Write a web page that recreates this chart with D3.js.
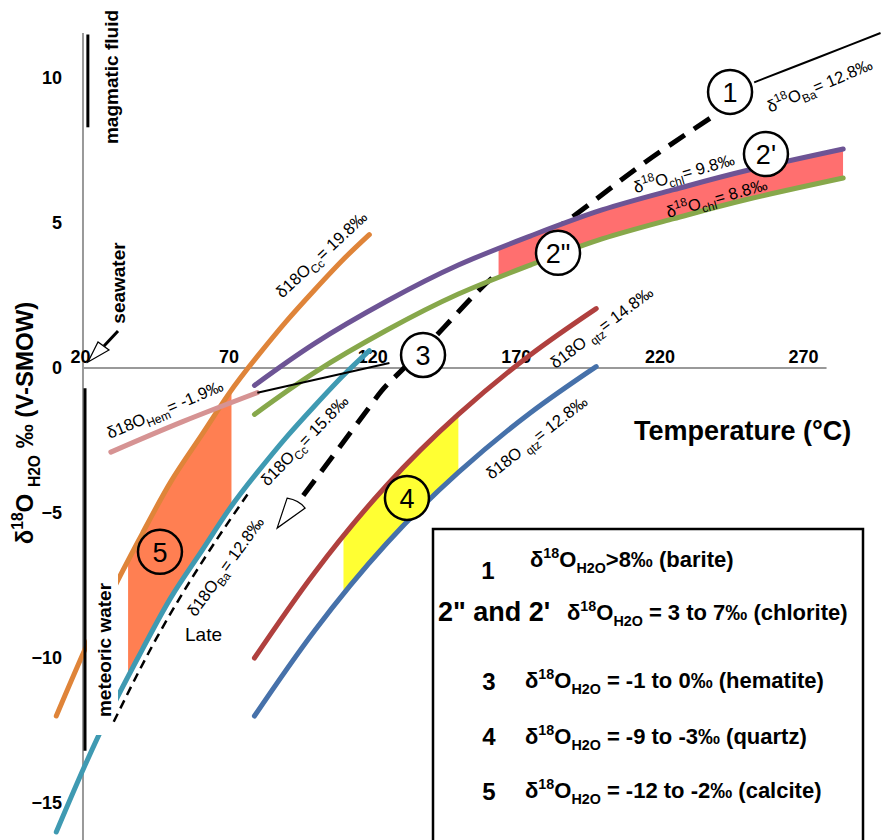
<!DOCTYPE html>
<html>
<head>
<meta charset="utf-8">
<script src="https://cdn.jsdelivr.net/npm/d3@7"></script>
<style>
  body { margin: 0; background: #fff; }
  svg { font-family: "Liberation Sans", Arial, Helvetica, sans-serif; }
</style>
</head>
<body>
<div id="container"></div>
<script>
/* CONSTANTS AND GLOBALS */
const width = 882;
const height = 840;

// DATA - temperature (°C) and δ18O of water (‰)
const calciteT = [10, 20, 30, 40, 50, 60, 70, 80, 90, 100, 110, 119];
const calcite198 = [-12.0, -9.7, -7.6, -5.7, -3.9, -2.4, -0.9, 0.4, 1.6, 2.7, 3.75, 4.6];
const calcite158 = [-16.0, -13.7, -11.6, -9.7, -7.9, -6.4, -4.9, -3.6, -2.4, -1.3, -0.25, 0.6];

const chloriteT = [79, 100, 125, 150, 175, 200, 225, 250, 284];
const chlorite98 = [-0.6, 0.85, 2.3, 3.55, 4.55, 5.45, 6.15, 6.8, 7.55];
const chlorite88 = [-1.6, -0.15, 1.3, 2.55, 3.55, 4.45, 5.15, 5.8, 6.55];

const quartzT = [79, 100, 125, 150, 175, 198];
const quartz148 = [-10.0, -7.05, -4.05, -1.6, 0.45, 2.05];
const quartz128 = [-12.0, -9.05, -6.05, -3.6, -1.55, 0.05];

const hematiteT = [29, 54, 80];
const hematite = [-2.9, -1.85, -0.85];
const hematiteLinkT = [80, 126];
const hematiteLink = [-0.85, 0.17];

const bariteT = [96, 119, 127, 145, 164, 191, 213, 239];
const barite = [-4.4, -1.35, -0.4, 1.4, 3.3, 5.3, 6.95, 8.7];
const bariteHotT = [253, 275, 297];
const bariteHot = [9.85, 10.7, 11.55];
const bariteLateT = [30, 45, 62, 77];
const bariteLate = [-12.2, -9.3, -6.5, -4.3];

// temperature windows of the shaded fields
const calciteBand = [35, 71];
const chloriteBand = [164, 284];
const quartzBand = [110, 150];

// fluid reservoirs (δ18O ranges)
const magmaticRange = [8.3, 11.5];
const meteoricRange = [-13.2, -0.7];

const xTicks = [20, 70, 120, 170, 220, 270];
const yTicks = [-15, -10, -5, 0, 5, 10];

// numbered circles [label, T, δ18O]
const markers = [["1", 244.6, 9.52], ["2'", 257.1, 7.38], ["2\"", 184.7, 3.97],
                 ["3", 137.7, 0.45], ["4", 132.1, -4.48], ["5", 46.1, -6.34]];

/* SCALES */
const x = d3.scaleLinear().domain([20, 270]).range([85, 803]);
const y = d3.scaleLinear().domain([-15, 10]).range([803, 78]);

const svg = d3.select("#container")
  .append("svg")
  .attr("width", width)
  .attr("height", height)
  .style("background-color", "#fff");

const pts = (ts, vs) => d3.zip(ts, vs).map(([t, v]) => ({ t, v }));
const line = d3.line().x(d => x(d.t)).y(d => y(d.v)).curve(d3.curveNatural);
const band = d3.area().x(d => x(d.t)).y0(d => y(d.lo)).y1(d => y(d.hi)).curve(d3.curveNatural);

// rich text with super/subscripts, base size in px
function rich(text, parts, size, small = 0.65) {
  let shift = 0;
  parts.forEach(([s, k]) => {
    const target = k === "sup" ? -0.42 * size : k === "sub" ? 0.28 * size : 0;
    const ts = text.append("tspan").text(s);
    if (k) ts.attr("font-size", size * small);
    if (target !== shift) ts.attr("dy", target - shift);
    shift = target;
  });
}

/* AXES */
svg.append("line")
  .attr("x1", x(19.3)).attr("x2", x(19.3))
  .attr("y1", 33).attr("y2", height)
  .attr("stroke", "#999").attr("stroke-width", 2);
svg.append("line")
  .attr("x1", x(19.3)).attr("x2", x(278.2))
  .attr("y1", y(0)).attr("y2", y(0))
  .attr("stroke", "#999").attr("stroke-width", 2);

svg.append("g")
  .attr("transform", `translate(0,${y(0)})`)
  .call(d3.axisTop(x).tickValues(xTicks).tickSize(0).tickPadding(5))
  .call(g => g.select(".domain").remove())
  .attr("font-family", null).attr("font-size", 18).attr("font-weight", "bold")
  .selectAll("text").attr("dx", d => d === 20 ? -5 : 0);

svg.append("g")
  .attr("transform", `translate(${x(19.3)},0)`)
  .call(d3.axisLeft(y).tickValues(yTicks).tickSize(0).tickPadding(21))
  .call(g => g.select(".domain").remove())
  .attr("font-family", null).attr("font-size", 18).attr("font-weight", "bold");

/* THICK DASHED BARITE PATH (under the chlorite field) */
svg.append("path")
  .attr("d", line(pts(bariteT, barite)))
  .attr("fill", "none").attr("stroke", "#000")
  .attr("stroke-width", 5).attr("stroke-dasharray", "19,11");
svg.append("path")
  .attr("d", line(pts(bariteHotT, bariteHot)))
  .attr("fill", "none").attr("stroke", "#000").attr("stroke-width", 2);

/* SHADED FIELDS */
const defs = svg.append("defs");
function field(id, ts, hi, lo, win, color) {
  defs.append("clipPath").attr("id", id).append("rect")
    .attr("x", x(win[0])).attr("width", x(win[1]) - x(win[0]))
    .attr("y", 0).attr("height", height);
  svg.append("path")
    .attr("d", band(ts.map((t, i) => ({ t, hi: hi[i], lo: lo[i] }))))
    .attr("fill", color)
    .attr("clip-path", `url(#${id})`);
}
field("clipCc", calciteT, calcite198, calcite158, calciteBand, "#FF7F52");
field("clipChl", chloriteT, chlorite98, chlorite88, chloriteBand, "#FF6F6F");
field("clipQtz", quartzT, quartz148, quartz128, quartzBand, "#FFFF33");

/* CURVES */
const curves = [
  [chloriteT, chlorite98, "#6D5495"],
  [chloriteT, chlorite88, "#87A84B"],
  [calciteT, calcite158, "#3F9AB2"],
  [calciteT, calcite198, "#DF8439"],
  [quartzT, quartz148, "#B0403E"],
  [quartzT, quartz128, "#4671AA"],
  [hematiteT, hematite, "#D69393"]
];
curves.forEach(([ts, vs, c]) => {
  svg.append("path")
    .attr("d", line(pts(ts, vs)))
    .attr("fill", "none").attr("stroke", c)
    .attr("stroke-width", 5).attr("stroke-linecap", "round");
});

svg.append("path")
  .attr("d", line(pts(hematiteLinkT, hematiteLink)))
  .attr("fill", "none").attr("stroke", "#000").attr("stroke-width", 2);

/* FLUID RESERVOIRS */
svg.append("line")
  .attr("x1", x(21)).attr("x2", x(21))
  .attr("y1", y(magmaticRange[1])).attr("y2", y(magmaticRange[0]))
  .attr("stroke", "#000").attr("stroke-width", 3);
svg.append("line")
  .attr("x1", x(20)).attr("x2", x(20))
  .attr("y1", y(meteoricRange[1])).attr("y2", y(meteoricRange[0]))
  .attr("stroke", "#000").attr("stroke-width", 3);

// white backing of the meteoric water label
svg.append("rect")
  .attr("x", 87).attr("y", 570).attr("width", 31).attr("height", 165)
  .attr("fill", "#fff");

svg.append("path")
  .attr("d", line(pts(bariteLateT, bariteLate)))
  .attr("fill", "none").attr("stroke", "#000")
  .attr("stroke-width", 2.5).attr("stroke-dasharray", "9,6");

// vertical labels
[["magmatic fluid", 111, 77], ["seawater", 118, 283], ["meteoric water", 104, 650]]
  .forEach(([t, cx, cy]) => {
    svg.append("text")
      .attr("transform", `translate(${cx},${cy}) rotate(-90)`)
      .attr("text-anchor", "middle").attr("dy", "0.35em")
      .attr("font-size", 19).attr("font-weight", "bold")
      .text(t);
  });

// seawater arrow
const sx = x(20) + 3, sy = y(0) - 6;
svg.append("line")
  .attr("x1", sx + 16).attr("y1", sy - 16).attr("x2", sx + 30).attr("y2", sy - 31)
  .attr("stroke", "#000").attr("stroke-width", 3);
svg.append("path")
  .attr("d", `M${sx},${sy} L${sx + 10},${sy - 20} L${sx + 21},${sy - 12} Z`)
  .attr("fill", "#fff").attr("stroke", "#000").attr("stroke-width", 1.2);

// direction arrow at the end of the barite path
const ax = x(86.9), ay = y(-5.52);
svg.append("path")
  .attr("d", `M${ax},${ay} L${ax + 10},${ay - 30} Q${ax + 22},${ay - 28} ${ax + 28},${ay - 20} Z`)
  .attr("fill", "#fff").attr("stroke", "#000").attr("stroke-width", 1.2);

/* CURVE LABELS */
const curveLabels = [
  [[["δ18O", ""], ["Cc", "sub"], ["= 19.8‰", ""]], 102.5, 3.9, -43],
  [[["δ18O", ""], ["Cc", "sub"], ["= 15.8‰", ""]], 96.6, -2.52, -46],
  [[["δ18O", ""], ["Hem", "sub"], ["= -1.9‰", ""]], 47.9, -1.45, -23],
  [[["δ18O", ""], ["Ba", "sub"], ["= 12.8‰", ""]], 69.1, -6.86, -54],
  [[["δ18O ", ""], ["qtz", "sub"], ["= 14.8‰", ""]], 200, 1.38, -37],
  [[["δ18O ", ""], ["qtz", "sub"], ["= 12.8‰", ""]], 177.4, -2.41, -38],
  [[["δ", ""], ["18", "sup"], ["O", ""], ["chl", "sub"], ["= 9.8‰", ""]], 228.6, 6.69, -16],
  [[["δ", ""], ["18", "sup"], ["O", ""], ["chl", "sub"], ["= 8.8‰", ""]], 240, 5.83, -16],
  [[["δ", ""], ["18", "sup"], ["O", ""], ["Ba", "sub"], ["= 12.8‰", ""]], 275.9, 9.72, -23]
];
curveLabels.forEach(([parts, t, v, a]) => {
  const txt = svg.append("text")
    .attr("transform", `translate(${x(t)},${y(v)}) rotate(${a})`)
    .attr("text-anchor", "middle").attr("y", 5)
    .attr("font-size", 16.5);
  rich(txt, parts, 16.5, 0.72);
});

svg.append("text")
  .attr("x", 185).attr("y", 641)
  .attr("font-size", 19)
  .text("Late");

/* NUMBERED CIRCLES */
const fills = { "4": "#FFFF33", "5": "#FF7F52" };
markers.forEach(([lab, t, v]) => {
  svg.append("circle")
    .attr("cx", x(t)).attr("cy", y(v)).attr("r", 22)
    .attr("fill", fills[lab] || "#fff")
    .attr("stroke", "#000").attr("stroke-width", 2.5);
  svg.append("text")
    .attr("x", x(t)).attr("y", y(v)).attr("dy", "0.36em")
    .attr("text-anchor", "middle").attr("font-size", 27)
    .text(lab);
});

/* AXIS TITLES */
svg.append("text")
  .attr("x", 634).attr("y", 440)
  .attr("font-size", 27).attr("font-weight", "bold")
  .text("Temperature (°C)");

const yTitle = svg.append("text")
  .attr("transform", `translate(25,423) rotate(-90)`)
  .attr("text-anchor", "middle").attr("dy", "0.35em")
  .attr("font-size", 24).attr("font-weight", "bold");
rich(yTitle, [["δ", ""], ["18", "sup"], ["O ", ""], ["H2O", "sub"], [" ‰ (V-SMOW)", ""]], 24);

/* LEGEND BOX */
svg.append("rect")
  .attr("x", 433).attr("y", 529).attr("width", 430).attr("height", 330)
  .attr("fill", "none").attr("stroke", "#000").attr("stroke-width", 2.5);

const legendRows = [
  ["1", 488, 579, "middle", [[">8‰ (barite)", ""]], 530, 567],
  ["2\" and 2'", 438, 621, "start", [[" = 3 to 7‰ (chlorite)", ""]], 567, 620],
  ["3", 489, 690, "middle", [[" = -1 to 0‰ (hematite)", ""]], 525, 688],
  ["4", 489, 745, "middle", [[" = -9 to -3‰ (quartz)", ""]], 525, 744],
  ["5", 489, 800, "middle", [[" = -12 to -2‰ (calcite)", ""]], 525, 798]
];
legendRows.forEach(([num, nx, ny, anchor, tail, tx, ty], i) => {
  svg.append("text")
    .attr("x", nx).attr("y", ny).attr("text-anchor", anchor)
    .attr("font-size", i === 1 ? 27 : 24).attr("font-weight", "bold")
    .text(num);
  const txt = svg.append("text")
    .attr("x", tx).attr("y", ty)
    .attr("font-size", 22).attr("font-weight", "bold");
  rich(txt, [["δ", ""], ["18", "sup"], ["O", ""], ["H2O", "sub"]].concat(tail), 22);
});
</script>
</body>
</html>
